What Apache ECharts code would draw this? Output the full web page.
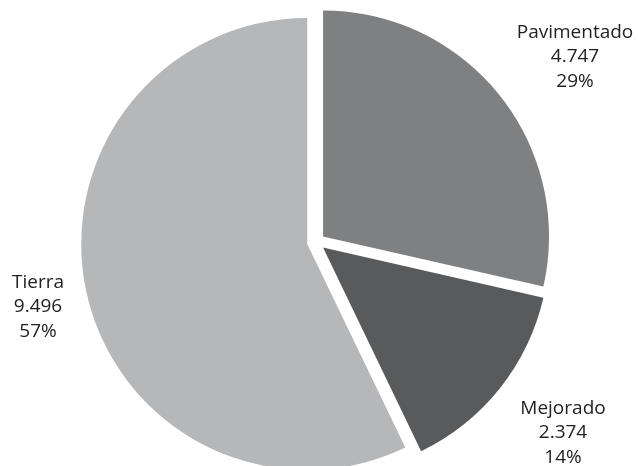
<!DOCTYPE html>
<html>
<head>
<meta charset="utf-8">
<script src="https://cdn.jsdelivr.net/npm/echarts@6/dist/echarts.min.js"></script>
<style>
  html, body { margin: 0; padding: 0; background: #ffffff; }
  #chart { width: 638px; height: 466px; }
</style>
</head>
<body>
<div id="chart"></div>
<script>
// Road surface types: length (km) per category
const categories = ['Pavimentado', 'Mejorado', 'Tierra'];
const values = [4747, 2374, 9496];
const valueLabels = ['4.747', '2.374', '9.496'];
const percentLabels = ['29%', '14%', '57%'];
const colors = ['#7f8082', '#595a5c', '#b6b7b9'];

// Label anchor points (centre of each three-line label block)
const labelAnchors = [[575, 57], [563, 433], [38, 307]];

const chart = echarts.init(document.getElementById('chart'), null, { renderer: 'canvas' });

const data = categories.map((name, i) => ({
  name: name,
  value: values[i],
  selected: true,
  itemStyle: { color: colors[i] }
}));

const labelFont = '19px "Open Sans"';

chart.setOption({
  animation: false,
  backgroundColor: '#ffffff',
  series: [{
    type: 'pie',
    center: [316, 242],
    radius: [0, 226],
    startAngle: 90,
    clockwise: true,
    selectedMode: 'multiple',
    selectedOffset: 9,
    data: data,
    itemStyle: { borderWidth: 0 },
    emphasis: { disabled: true },
    labelLine: { show: false },
    label: { show: false }
  }],
  // Category labels: name, value and share stacked on three lines
  graphic: categories.map((name, i) => ({
    type: 'text',
    x: labelAnchors[i][0],
    y: labelAnchors[i][1],
    silent: true,
    style: {
      text: name + '\n' + valueLabels[i] + '\n' + percentLabels[i],
      font: labelFont,
      lineHeight: 24.5,
      fill: '#222222',
      align: 'center',
      verticalAlign: 'middle'
    }
  }))
});
</script>
</body>
</html>
